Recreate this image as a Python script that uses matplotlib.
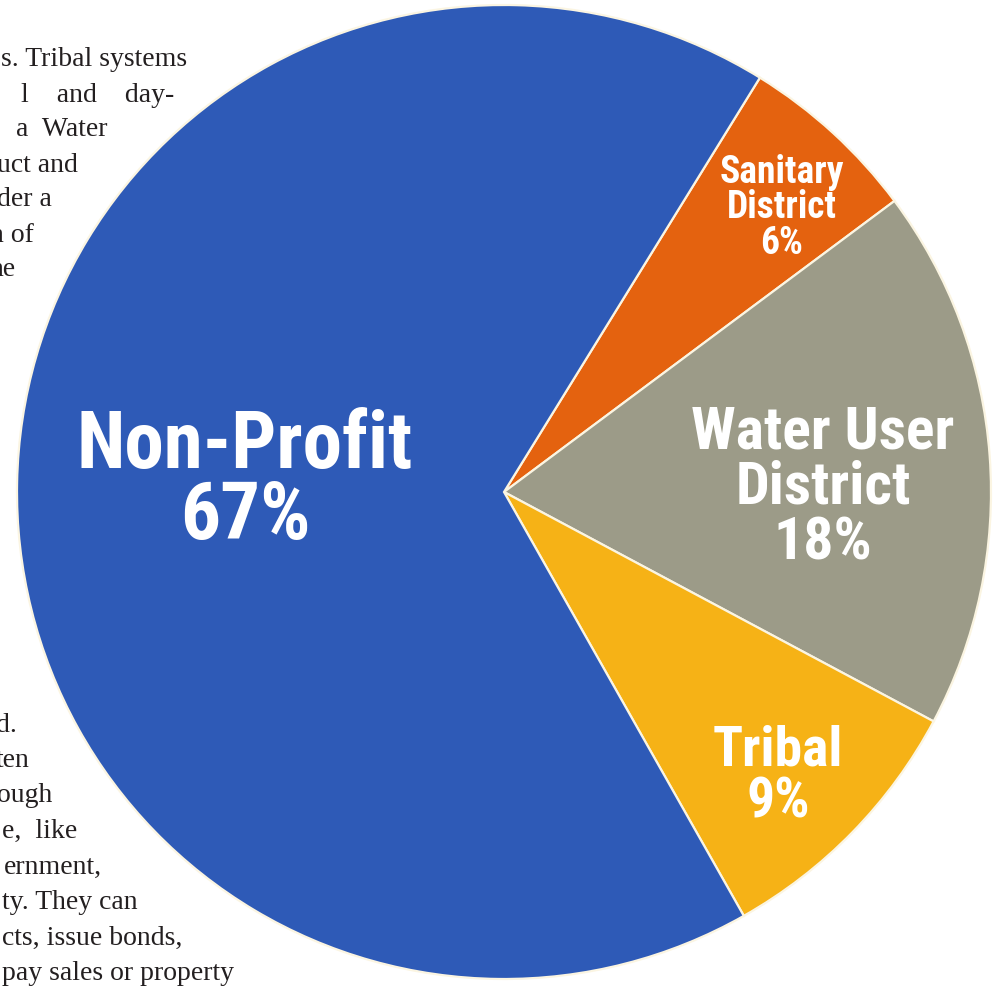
import matplotlib.pyplot as plt

# Slice data, clockwise from the top-right boundary
labels = ['Sanitary\nDistrict', 'Water User\nDistrict', 'Tribal', 'Non-Profit']
shares = [6, 18, 9, 67]
colors = ['#e4620f', '#9c9b88', '#f6b216', '#2e5ab7']

# Clipped body text of the scanned page (right end x in px)
text_top = ['s. Tribal systems', 'l    and    day-', 'a  Water', 'uct and',
            'der a', 'n of', 'he']
text_bottom = ['d.', 'ten', 'ough', 'e,  like', 'ernment,', 'ty. They can',
               'cts, issue bonds,', 'pay sales or property']
top_ends = [187, 174, 107, 78, 52, 34, 16]
bottom_ends = [17, 30, 52, 77, 102, 138, 182, 234]

W, H = 1002, 987
fig = plt.figure(figsize=(W / 100, H / 100), dpi=100)
ax = fig.add_axes([0, 0, 1, 1])

cx, cy, R = 504, 493, 487
# y axis is inverted, so counterclock=True draws clockwise on screen
wedges, _ = ax.pie(shares, colors=colors, startangle=-58.3, counterclock=True,
                   center=(cx, cy), radius=R, frame=True,
                   wedgeprops=dict(edgecolor='#fbf5e2', linewidth=1.6))
ax.set_xlim(0, W)
ax.set_ylim(H, 0)
ax.axis('off')

bold = ['Roboto Condensed', 'DejaVu Sans']
label_pos = [(782, 208), (823, 488), (778, 777), (245, 482)]
label_size = [27, 43, 40, 57]
label_ls = [0.95, 0.98, 1.0, 0.92]
for lab, s, (x, y), fs, ls in zip(labels, shares, label_pos, label_size, label_ls):
    ax.text(x, y, f'{lab}\n{s}%', ha='center', va='center', color='white',
            fontsize=fs, fontweight='black', fontstretch='condensed',
            family=bold, linespacing=ls)

serif = ['Liberation Serif', 'DejaVu Serif']
for i, (t, xe) in enumerate(zip(text_top, top_ends)):
    ax.text(xe, 60 + i * 35, t, ha='right', va='center', fontsize=20,
            family=serif, color='#231f20')
for i, (t, xe) in enumerate(zip(text_bottom, bottom_ends)):
    ax.text(xe, 725 + i * 35.5, t, ha='right', va='center', fontsize=20,
            family=serif, color='#231f20')

fig.savefig('out.png', dpi=100)
